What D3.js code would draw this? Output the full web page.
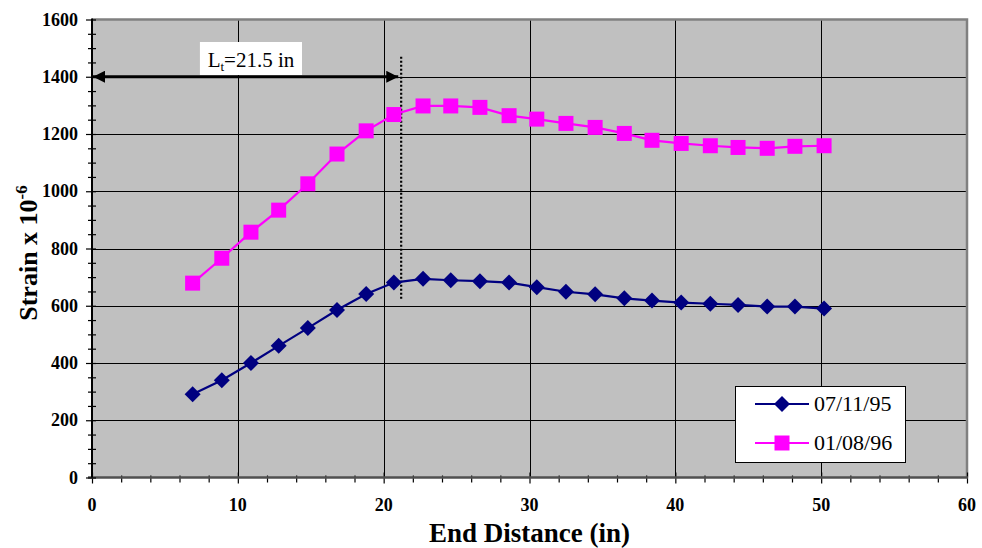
<!DOCTYPE html>
<html>
<head>
<meta charset="utf-8">
<script src="https://cdn.jsdelivr.net/npm/d3@7"></script>
<style>
  body { margin: 0; background: #fff; }
  svg text { font-family: "Liberation Serif", "Times New Roman", serif; fill: #000; }
</style>
</head>
<body>
<div id="chart-container"></div>
<script>
// end distance (in) for each gauge
const distance = [6.9, 8.9, 10.9, 12.8, 14.8, 16.8, 18.8, 20.7, 22.7, 24.6, 26.6, 28.6,
                  30.5, 32.5, 34.5, 36.5, 38.4, 40.4, 42.4, 44.3, 46.3, 48.2, 50.2];
const strainJul95 = [291, 340, 400, 460, 522, 585, 641, 681, 694, 689, 686, 681,
                     665, 649, 640, 626, 618, 611, 607, 603, 597, 597, 590];
const strainJan96 = [679, 766, 857, 934, 1026, 1130, 1211, 1268, 1298, 1298, 1293, 1264,
                     1252, 1237, 1223, 1202, 1178, 1167, 1159, 1153, 1150, 1157, 1159];
const seriesNames = ["07/11/95", "01/08/96"];
const xTicks = [0, 10, 20, 30, 40, 50, 60];
const yTicks = [0, 200, 400, 600, 800, 1000, 1200, 1400, 1600];
const transferLength = 21.5;

const w = 982, h = 548;
const pLeft = 92, pRight = 967, pTop = 19.5, pBottom = 477.5;

const x = d3.scaleLinear().domain([0, 60]).range([pLeft, pRight]);
const y = d3.scaleLinear().domain([0, 1600]).range([pBottom, pTop]);

const svg = d3.select("#chart-container").append("svg")
  .attr("width", w).attr("height", h);

// plot area
svg.append("rect")
  .attr("x", pLeft).attr("y", pTop)
  .attr("width", pRight - pLeft).attr("height", pBottom - pTop)
  .attr("fill", "#c0c0c0");

// grid lines
svg.append("g").selectAll("line").data(yTicks.filter(d => d > 0 && d < 1600)).enter().append("line")
  .attr("x1", pLeft).attr("x2", pRight)
  .attr("y1", d => Math.round(y(d)) + 0.5).attr("y2", d => Math.round(y(d)) + 0.5)
  .attr("stroke", "#000").attr("stroke-width", 1);
svg.append("g").selectAll("line").data(xTicks.filter(d => d > 0 && d < 60)).enter().append("line")
  .attr("x1", d => Math.round(x(d)) + 0.5).attr("x2", d => Math.round(x(d)) + 0.5)
  .attr("y1", pTop).attr("y2", pBottom)
  .attr("stroke", "#000").attr("stroke-width", 1);

// top / right border
svg.append("path")
  .attr("d", `M${pLeft},${pTop} H${pRight} V${pBottom}`)
  .attr("fill", "none").attr("stroke", "#808080").attr("stroke-width", 2.5);

// axes
const xAxis = d3.axisBottom(x).tickValues(d3.range(0, 61, 2)).tickSize(0).tickFormat("");
const yAxis = d3.axisLeft(y).tickValues(d3.range(0, 1601, 50)).tickSize(0).tickFormat("");

const gx = svg.append("g").attr("transform", `translate(0,${pBottom})`).call(xAxis);
gx.select(".domain").remove();
gx.selectAll(".tick line")
  .attr("y1", d => xTicks.includes(d) ? -5 : -2)
  .attr("y2", d => xTicks.includes(d) ? 6 : 5)
  .attr("stroke", "#000").attr("stroke-width", 1.2);
gx.append("line").attr("x1", pLeft - 4).attr("x2", pRight + 1)
  .attr("stroke", "#505050").attr("stroke-width", 2.5);
gx.selectAll(".lbl").data(xTicks).enter().append("text")
  .attr("class", "lbl")
  .attr("x", d => x(d)).attr("y", 33)
  .attr("text-anchor", "middle")
  .attr("font-size", 18).attr("font-weight", "bold")
  .text(d => d);

const gy = svg.append("g").attr("transform", `translate(${pLeft},0)`).call(yAxis);
gy.select(".domain").remove();
gy.selectAll(".tick line")
  .attr("x1", d => yTicks.includes(d) ? -6 : -4)
  .attr("x2", 4)
  .attr("stroke", "#000").attr("stroke-width", 1.2);
gy.append("line").attr("y1", pTop - 1).attr("y2", pBottom)
  .attr("stroke", "#000").attr("stroke-width", 2);
gy.selectAll(".lbl").data(yTicks).enter().append("text")
  .attr("class", "lbl")
  .attr("x", -14).attr("y", d => y(d) + 6)
  .attr("text-anchor", "end")
  .attr("font-size", 18).attr("font-weight", "bold")
  .text(d => d);

// axis titles
svg.append("text")
  .attr("x", (pLeft + pRight) / 2).attr("y", 542)
  .attr("text-anchor", "middle")
  .attr("font-size", 27).attr("font-weight", "bold")
  .text("End Distance (in)");

const yt = svg.append("text")
  .attr("transform", `translate(37,253) rotate(-90)`)
  .attr("text-anchor", "middle")
  .attr("font-size", 26).attr("font-weight", "bold");
yt.append("tspan").text("Strain x 10");
yt.append("tspan").attr("dy", -10).attr("font-size", 17).text("-6");

// transfer length annotation
svg.append("line")
  .attr("x1", x(21.2)).attr("x2", x(21.2))
  .attr("y1", y(1470)).attr("y2", y(620))
  .attr("stroke", "#000").attr("stroke-width", 2.2)
  .attr("stroke-dasharray", "2,2");

const defs = svg.append("defs");
defs.append("marker").attr("id", "arr")
  .attr("viewBox", "0 0 10 10").attr("refX", 10).attr("refY", 5)
  .attr("markerWidth", 4).attr("markerHeight", 4)
  .attr("orient", "auto-start-reverse")
  .append("path").attr("d", "M0,0 L10,5 L0,10 z").attr("fill", "#000");

svg.append("line")
  .attr("x1", x(0) + 1).attr("x2", x(21.0))
  .attr("y1", y(1400)).attr("y2", y(1400))
  .attr("stroke", "#000").attr("stroke-width", 3)
  .attr("marker-start", "url(#arr)").attr("marker-end", "url(#arr)");

svg.append("rect")
  .attr("x", x(7.4)).attr("y", 42)
  .attr("width", x(14.4) - x(7.4)).attr("height", 33)
  .attr("fill", "#fff");
const lt = svg.append("text")
  .attr("x", (x(7.4) + x(14.4)) / 2).attr("y", 67)
  .attr("text-anchor", "middle")
  .attr("font-size", 21);
lt.append("tspan").text("L");
lt.append("tspan").attr("dy", 4).attr("font-size", 13).text("t");
lt.append("tspan").attr("dy", -4).text("=" + transferLength + " in");

// series
const diamond = "M0,-8 L8,0 L0,8 L-8,0 Z";
const square = "M-7.5,-7.5 H7.5 V7.5 H-7.5 Z";
const series = [
  { name: seriesNames[0], values: strainJul95, color: "#000080", shape: diamond },
  { name: seriesNames[1], values: strainJan96, color: "#ff00ff", shape: square }
];

const line = d3.line().x((d, i) => x(distance[i])).y(d => y(d));

series.forEach(s => {
  svg.append("path")
    .attr("d", line(s.values))
    .attr("fill", "none").attr("stroke", s.color).attr("stroke-width", 2.2);
  svg.append("g").selectAll("path").data(s.values).enter().append("path")
    .attr("transform", (d, i) => `translate(${x(distance[i])},${y(d)})`)
    .attr("d", s.shape)
    .attr("fill", s.color);
});

// legend
const lg = svg.append("g");
lg.append("rect")
  .attr("x", 735.5).attr("y", 386.5).attr("width", 170).attr("height", 76)
  .attr("fill", "#fff").attr("stroke", "#000").attr("stroke-width", 1);
series.forEach((s, i) => {
  const ly = 404 + i * 39;
  lg.append("line").attr("x1", 755).attr("x2", 809).attr("y1", ly).attr("y2", ly)
    .attr("stroke", s.color).attr("stroke-width", 2.2);
  lg.append("path").attr("transform", `translate(782,${ly})`).attr("d", s.shape)
    .attr("fill", s.color);
  lg.append("text").attr("x", 814).attr("y", ly + 7)
    .attr("font-size", 22).text(s.name);
});
</script>
</body>
</html>
